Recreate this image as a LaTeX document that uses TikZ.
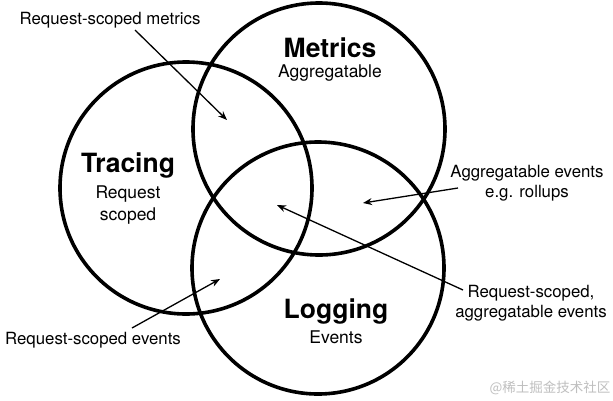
\documentclass[tikz,border=0pt]{standalone}
\usepackage{fontspec}
\setmainfont{TeX Gyre Heros}
\newfontfamily\cjkfont{Noto Sans CJK SC}
\usetikzlibrary{arrows.meta}
\begin{document}
\begin{tikzpicture}[x=1pt,y=-1pt,
  ring/.style={draw=black,line width=3.6pt,circle,minimum size=252pt,inner sep=0pt},
  title/.style={font=\fontsize{26.5}{28}\selectfont\bfseries,inner sep=0pt},
  sub/.style={font=\fontsize{17.5}{20}\selectfont,inner sep=0pt,align=center},
  lbl/.style={font=\fontsize{16.8}{19.5}\selectfont,inner sep=0pt,align=center},
  pointer/.style={draw=black,line width=1.3pt,-{Stealth[length=9pt,width=7pt]}}]
\useasboundingbox (0,0) rectangle (613,400);
\fill[white] (0,0) rectangle (613,400);
% circles
\node[ring] (metrics) at (319,129) {};
\node[ring] (tracing) at (186,188) {};
\node[ring] (logging) at (318,268) {};
% titles
\node[title] (mt) at (330,48) {Metrics};
\node[sub] (ms) at (330,73) {Aggregatable};
\node[title] (tt) at (128,166) {Tracing};
\node[sub,font=\fontsize{17.5}{21.5}\selectfont] (ts) at (128,205) {Request\\scoped};
\node[title] (lt) at (336,312) {Logging};
\node[sub] (ls) at (336,337) {Events};
% labels
\node[lbl] (l1) at (110,20) {Request-scoped metrics};
\node[lbl,font=\fontsize{16.8}{20}\selectfont] (l2) at (527,183) {Aggregatable events\\e.g. rollups};
\node[lbl,font=\fontsize{16.8}{20}\selectfont] (l3) at (531,303) {Request-scoped,\\aggregatable events};
\node[lbl] (l4) at (93,340) {Request-scoped events};
% arrow end points
\coordinate (s1) at (135,30);
\coordinate (e1) at (227,120);
\coordinate (s2) at (458,188);
\coordinate (e2) at (363,203);
\coordinate (s3) at (463,290);
\coordinate (e3) at (277,205);
\coordinate (s4) at (132,328);
\coordinate (e4) at (220,279);
\draw[pointer] (s1) -- (e1);
\draw[pointer] (s2) -- (e2);
\draw[pointer] (s3) -- (e3);
\draw[pointer] (s4) -- (e4);
% watermark
\node[font=\cjkfont\fontsize{13.5}{15}\selectfont,text=black!25,inner sep=0pt] (wm) at (550,388) {@稀土掘金技术社区};
\end{tikzpicture}
\end{document}
